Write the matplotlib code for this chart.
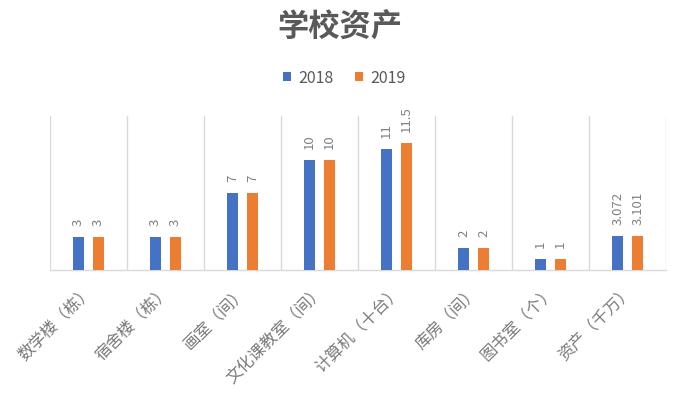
import matplotlib
matplotlib.use("Agg")
import matplotlib.pyplot as plt
import matplotlib.transforms as mtransforms
import numpy as np

plt.rcParams['font.family'] = ['Noto Sans CJK SC', 'DejaVu Sans']

categories = ["数学楼（栋）", "宿舍楼（栋）", "画室（间）", "文化课教室（间）",
              "计算机（十台）", "库房（间）", "图书室（个）", "资产（千万）"]
series_names = ["2018", "2019"]
values_2018 = [3, 3, 7, 10, 11, 2, 1, 3.072]
values_2019 = [3, 3, 7, 10, 11.5, 2, 1, 3.101]
colors = ["#4472C4", "#ED7D31"]

fig = plt.figure(figsize=(6.75, 3.98), dpi=100)
ax = fig.add_axes([0.074, 0.3216, 0.913, 0.387])

x = np.arange(len(categories))
off = 0.13
w = 0.145
b1 = ax.bar(x - off, values_2018, w, color=colors[0], label=series_names[0], zorder=3)
b2 = ax.bar(x + off, values_2019, w, color=colors[1], label=series_names[1], zorder=3)

for bars, vals in ((b1, values_2018), (b2, values_2019)):
    ax.bar_label(bars, labels=[f"{v:g}" for v in vals], rotation=90, padding=8,
                 fontsize=9.5, color="#808080")

ax.set_xlim(-0.5, len(categories) - 0.5)
ax.set_ylim(0, 14)
ax.set_yticks([])
ax.set_xticks(x)
ax.set_xticklabels(categories, rotation=45, ha='right', rotation_mode='anchor',
                   fontsize=11.8, color="#7a7a7a")
ax.tick_params(axis='x', which='major', length=0, pad=9)
shift = mtransforms.ScaledTranslation(-4 / 100, 0, fig.dpi_scale_trans)
for lab in ax.get_xticklabels():
    lab.set_transform(lab.get_transform() + shift)
ax.set_xticks(np.arange(-0.5, len(categories), 1), minor=True)
ax.tick_params(axis='x', which='minor', length=0)
ax.grid(which='minor', axis='x', color="#d9d9d9", linewidth=1, zorder=0)
for s in ['top', 'left', 'right']:
    ax.spines[s].set_visible(False)
ax.spines['bottom'].set_color("#d9d9d9")
ax.spines['bottom'].set_linewidth(1)

fig.text(0.504, 0.93, "学校资产", ha='center', va='center', fontsize=22.5,
         fontweight='bold', color="#595959")
fig.legend(handles=[b1, b2], labels=series_names, loc='center', bbox_to_anchor=(0.51, 0.804),
           ncol=2, frameon=False, fontsize=11.5, handlelength=0.5, handleheight=0.5,
           columnspacing=1.3, handletextpad=0.5, labelcolor="#595959")

fig.savefig("out.png", dpi=100)
